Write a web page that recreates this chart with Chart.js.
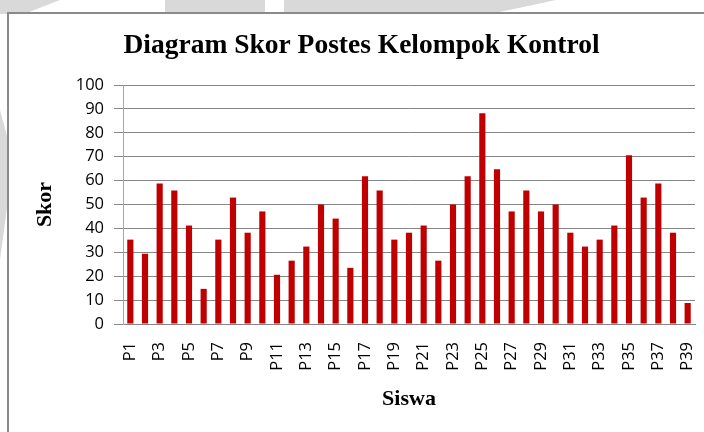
<!DOCTYPE html>
<html>
<head>
<meta charset="utf-8">
<script src="https://cdn.jsdelivr.net/npm/chart.js@4.4.1/dist/chart.umd.min.js"></script>
<style>
    html, body { margin: 0; padding: 0; background: #fff; }
    #wrap { position: relative; width: 704px; height: 432px; overflow: hidden; }
    .mark { position: absolute; background: #d9d9d9; }
    #frame {
        position: absolute; left: 7px; top: 12px; width: 720px; height: 440px;
        border-top: 2px solid #8a8a8a; border-left: 2px solid #8a8a8a; background: #fff;
    }
    canvas { position: absolute; left: 0; top: 0; }
</style>
</head>
<body>
<div id="wrap">
    <div class="mark" style="left:0;top:0;width:60px;height:14px;clip-path:polygon(0 0,100% 0,40% 100%,0 100%)"></div>
    <div class="mark" style="left:165px;top:0;width:100px;height:14px"></div>
    <div class="mark" style="left:284px;top:0;width:190px;height:14px"></div>
    <div class="mark" style="left:474px;top:0;width:82px;height:14px;clip-path:polygon(0 0,100% 0,20% 100%,0 100%)"></div>
    <div class="mark" style="left:0;top:110px;width:8px;height:150px;clip-path:polygon(0 0,100% 20%,100% 60%,0 100%)"></div>
    <div id="frame"></div>
    <canvas id="chart" width="704" height="432"></canvas>
</div>
<script>
const students = [];
for (let i = 1; i <= 39; i++) students.push('P' + i);

const scores = [
    35.3, 29.4, 58.8, 55.9, 41.2, 14.7, 35.3, 52.9, 38.2, 47.1,
    20.6, 26.5, 32.4, 50.0, 44.1, 23.5, 61.8, 55.9, 35.3, 38.2,
    41.2, 26.5, 50.0, 61.8, 88.2, 64.7, 47.1, 55.9, 47.1, 50.0,
    38.2, 32.4, 35.3, 41.2, 70.6, 52.9, 58.8, 38.2, 8.8
];

const yTicks = [0, 10, 20, 30, 40, 50, 60, 70, 80, 90, 100];

const titleText = 'Diagram Skor Postes Kelompok Kontrol';
const yTitle = 'Skor';
const xTitle = 'Siswa';

const serif = '"Liberation Serif", "Times New Roman", serif';
const sans = '"Open Sans", "Liberation Sans", sans-serif';

const ctx = document.getElementById('chart').getContext('2d');
new Chart(ctx, {
    type: 'bar',
    data: {
        labels: students,
        datasets: [{
            label: 'Skor',
            data: scores,
            backgroundColor: '#c00000',
            borderWidth: 0,
            categoryPercentage: 1,
            barPercentage: 0.42
        }]
    },
    options: {
        responsive: false,
        animation: false,
        layout: { padding: { left: 28, right: 9, top: 14, bottom: 15 } },
        plugins: {
            legend: { display: false },
            tooltip: { enabled: false },
            title: {
                display: true,
                text: titleText,
                color: '#000',
                font: { family: serif, size: 27.5, weight: 'bold' },
                padding: { top: 15, bottom: 23 }
            }
        },
        scales: {
            x: {
                grid: { display: false, drawTicks: false },
                border: { display: true, color: '#868686', width: 1 },
                ticks: {
                    autoSkip: false,
                    minRotation: 90,
                    maxRotation: 90,
                    padding: 18,
                    color: '#000',
                    font: { family: sans, size: 16.5 },
                    callback: (val, i) => i % 2 === 0 ? students[i] : ''
                },
                title: {
                    display: true,
                    text: xTitle,
                    color: '#000',
                    font: { family: serif, size: 22, weight: 'bold' },
                    padding: { top: 4, bottom: 4 }
                },
                afterFit: s => {
                    s.height = 93;
                    s.paddingLeft = 0;
                    s.paddingRight = 0;
                }
            },
            y: {
                min: 0,
                max: 100,
                afterBuildTicks: s => { s.ticks = yTicks.map(v => ({ value: v })); },
                grid: { color: '#868686', lineWidth: 1, tickLength: 9 },
                border: { display: true, color: '#a6a6a6', width: 1 },
                ticks: {
                    padding: 10,
                    color: '#000',
                    font: { family: sans, size: 16.5 }
                },
                title: {
                    display: true,
                    text: yTitle,
                    color: '#000',
                    font: { family: serif, size: 22, weight: 'bold' },
                    padding: { top: 4, bottom: 4 }
                },
                afterFit: s => { s.width = 95; }
            }
        }
    }
});
</script>
</body>
</html>
